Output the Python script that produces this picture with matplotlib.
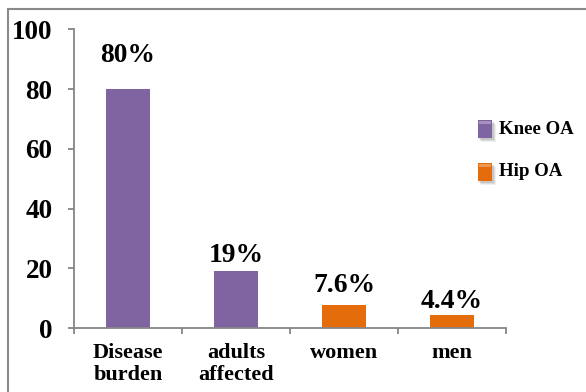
import matplotlib
matplotlib.use("Agg")
import matplotlib.pyplot as plt
from matplotlib.patches import Rectangle

categories = ["Disease\nburden", "adults\naffected", "women", "men"]
values = [80, 19, 7.6, 4.4]
labels = ["80%", "19%", "7.6%", "4.4%"]
groups = ["Knee OA", "Knee OA", "Hip OA", "Hip OA"]
series = ["Knee OA", "Hip OA"]
yticks = [0, 20, 40, 60, 80, 100]

colors = {"Knee OA": "#8064A2", "Hip OA": "#E46C0A"}
label_offsets = [19.4, 7, 9.4, 5]  # points from bar top to label baseline

plt.rcParams["font.family"] = ["Liberation Serif", "DejaVu Serif"]
plt.rcParams["font.weight"] = "bold"

fig = plt.figure(figsize=(5.86, 3.92), dpi=100)
W, H = 586, 392
ax = fig.add_axes([74 / W, 1 - 328 / H, 432 / W, 298.7 / H])

xs = list(range(len(categories)))
bars = ax.bar(xs, values, width=0.4,
              color=[colors[g] for g in groups], zorder=2)

for x, v, lab, off in zip(xs, values, labels, label_offsets):
    ax.annotate(lab, (x, v), xytext=(0, off), textcoords="offset points",
                ha="center", va="baseline", fontsize=19.8, fontweight="bold")

ax.set_xlim(-0.5, len(categories) - 0.5)
ax.set_ylim(0, 100)
ax.set_yticks(yticks)
ax.set_yticklabels([str(t) for t in yticks], fontsize=19.5, fontweight="bold")
ax.set_xticks(xs)
ax.set_xticklabels(categories, fontsize=16, fontweight="bold", linespacing=1.15)
ax.set_xticks([x - 0.5 for x in xs] + [len(xs) - 0.5], minor=True)

axis_grey = "#868686"
for s in ["top", "right"]:
    ax.spines[s].set_visible(False)
for s in ["left", "bottom"]:
    ax.spines[s].set_color(axis_grey)
    ax.spines[s].set_linewidth(1.3)
ax.tick_params(axis="y", direction="out", length=4.5, width=1.3,
               color=axis_grey, pad=11)
ax.tick_params(axis="x", which="major", length=0, pad=10.5)
ax.tick_params(axis="x", which="minor", direction="out", length=4,
               width=1.3, color=axis_grey)

# legend drawn by hand: shaded swatches with a soft drop shadow
leg_rows = [129, 172]
for name, yc in zip(series, leg_rows):
    x0, w, h = 478, 14, 18
    y0 = H - yc - h / 2
    for k, a in enumerate([0.10, 0.08, 0.06]):
        fig.patches.append(Rectangle(((x0 + 1 + k) / W, (y0 - 2 - k) / H),
                                     (w + 1) / W, h / H,
                                     transform=fig.transFigure,
                                     facecolor="black", alpha=a, lw=0))
    fig.patches.append(Rectangle((x0 / W, y0 / H), w / W, h / H,
                                 transform=fig.transFigure,
                                 facecolor=colors[name], lw=0))
    fig.patches.append(Rectangle(((x0 + 1) / W, (y0 + h - 4) / H),
                                 (w - 2) / W, 3 / H,
                                 transform=fig.transFigure,
                                 facecolor="white", alpha=0.3, lw=0))
    fig.text(499 / W, 1 - yc / H, name, fontsize=13.6, fontweight="bold",
             va="center", ha="left")

# outer frame
fig.patches.append(Rectangle((8 / W, -0.05), 1.2, 1 - 9 / H + 0.05,
                             transform=fig.transFigure, fill=False,
                             edgecolor="#8a8a8a", lw=1.5))

fig.savefig("out.png", dpi=100)
